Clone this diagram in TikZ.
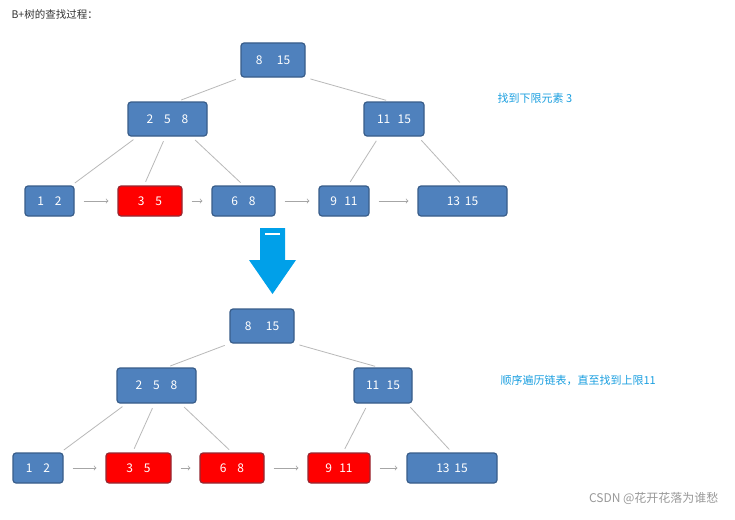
\documentclass[tikz,border=0pt]{standalone}
\usepackage{fontspec}
\setmainfont{Noto Sans CJK SC}
\definecolor{nodeblue}{RGB}{79,129,189}
\definecolor{nodeedge}{RGB}{56,93,138}
\definecolor{rededge}{RGB}{150,40,50}
\definecolor{skyblue}{RGB}{0,160,233}
\definecolor{notecol}{RGB}{26,159,224}
\begin{document}
\begin{tikzpicture}[x=1pt,y=-1pt,
  bn/.style={draw=nodeedge,line width=1.2pt,fill=nodeblue,rounded corners=3pt,minimum height=30pt,text=white,font=\fontsize{12}{12}\selectfont,inner sep=0pt},
  rn/.style={bn,fill=red,draw=rededge},
  ln/.style={draw=gray!55,line width=0.8pt,shorten <=5pt,shorten >=4pt},
  ar/.style={draw=gray!70,line width=0.8pt,->,shorten <=9pt,shorten >=9pt},
  note/.style={text=notecol,font=\fontsize{11}{11}\selectfont,anchor=west}]
\useasboundingbox (0,0) rectangle (735,519);
\fill[white] (0,0) rectangle (735,519);
\node[anchor=west,text=black!80,font=\fontsize{10.5}{10.5}\selectfont] (title) at (8,14) {B+树的查找过程：};
% top tree
\node[bn,minimum width=64pt,minimum height=34pt] (r1) at (273,60) {8\hspace{1.2em}15};
\node[bn,minimum width=79pt,minimum height=34pt] (a1) at (167.5,119) {2\hspace{0.9em}5\hspace{0.9em}8};
\node[bn,minimum width=60pt,minimum height=34pt] (b1) at (394,119) {11\hspace{0.6em}15};
\node[bn,minimum width=49pt] (l11) at (49.5,201) {1\hspace{0.9em}2};
\node[rn,minimum width=64pt] (l12) at (150,201) {3\hspace{0.9em}5};
\node[bn,minimum width=63pt] (l13) at (243.5,201) {6\hspace{0.9em}8};
\node[bn,minimum width=50pt] (l14) at (344,201) {9\hspace{0.6em}11};
\node[bn,minimum width=89pt] (l15) at (462.5,201) {13\hspace{0.4em}15};
\draw[ln] (r1.south west) -- ([xshift=10pt]a1.north);
\draw[ln] (r1.south east) -- ([xshift=-4pt]b1.north);
\draw[ln] ([xshift=-30pt]a1.south) -- ([xshift=-3pt]l11.north east);
\draw[ln] ([xshift=-2pt]a1.south) -- ([xshift=-6pt]l12.north);
\draw[ln] ([xshift=24pt]a1.south) -- (l13.north);
\draw[ln] ([xshift=-15pt]b1.south) -- ([xshift=4pt]l14.north);
\draw[ln] ([xshift=24pt]b1.south) -- (l15.north);
\draw[ar] (l11) -- (l12); \draw[ar] (l12) -- (l13); \draw[ar] (l13) -- (l14); \draw[ar] (l14) -- (l15);
\node[note] (n1) at (494,98) {找到下限元素 3};
% big arrow
\coordinate (bt) at (272.5,294);
\fill[skyblue] (260,228) -- (285,228) -- (285,260) -- (296,260) -- (bt) -- (249,260) -- (260,260) -- cycle;
\draw[white,line width=1.5pt] (265,234) -- (280,234);
% bottom tree
\node[bn,minimum width=64pt,minimum height=34pt] (r2) at (262,326) {8\hspace{1.2em}15};
\node[bn,minimum width=79pt,minimum height=35pt] (a2) at (156.5,385.5) {2\hspace{0.9em}5\hspace{0.9em}8};
\node[bn,minimum width=58pt,minimum height=35pt] (b2) at (383,385.5) {11\hspace{0.6em}15};
\node[bn,minimum width=50pt] (l21) at (38,468) {1\hspace{0.9em}2};
\node[rn,minimum width=65pt] (l22) at (138.5,468) {3\hspace{0.9em}5};
\node[rn,minimum width=64pt] (l23) at (232,468) {6\hspace{0.9em}8};
\node[rn,minimum width=62pt] (l24) at (339,468) {9\hspace{0.6em}11};
\node[bn,minimum width=90pt] (l25) at (452,468) {13\hspace{0.4em}15};
\draw[ln] (r2.south west) -- ([xshift=10pt]a2.north);
\draw[ln] (r2.south east) -- ([xshift=-4pt]b2.north);
\draw[ln] ([xshift=-30pt]a2.south) -- ([xshift=-3pt]l21.north east);
\draw[ln] ([xshift=-2pt]a2.south) -- ([xshift=-6pt]l22.north);
\draw[ln] ([xshift=24pt]a2.south) -- (l23.north);
\draw[ln] ([xshift=-15pt]b2.south) -- ([xshift=4pt]l24.north);
\draw[ln] ([xshift=24pt]b2.south) -- (l25.north);
\draw[ar] (l21) -- (l22); \draw[ar] (l22) -- (l23); \draw[ar] (l23) -- (l24); \draw[ar] (l24) -- (l25);
\node[note] (n2) at (497,380) {顺序遍历链表，直至找到上限11};
\node[anchor=east,text=gray!80,font=\fontsize{12}{12}\selectfont] (wm) at (722,498) {CSDN @花开花落为谁愁};
\end{tikzpicture}
\end{document}
